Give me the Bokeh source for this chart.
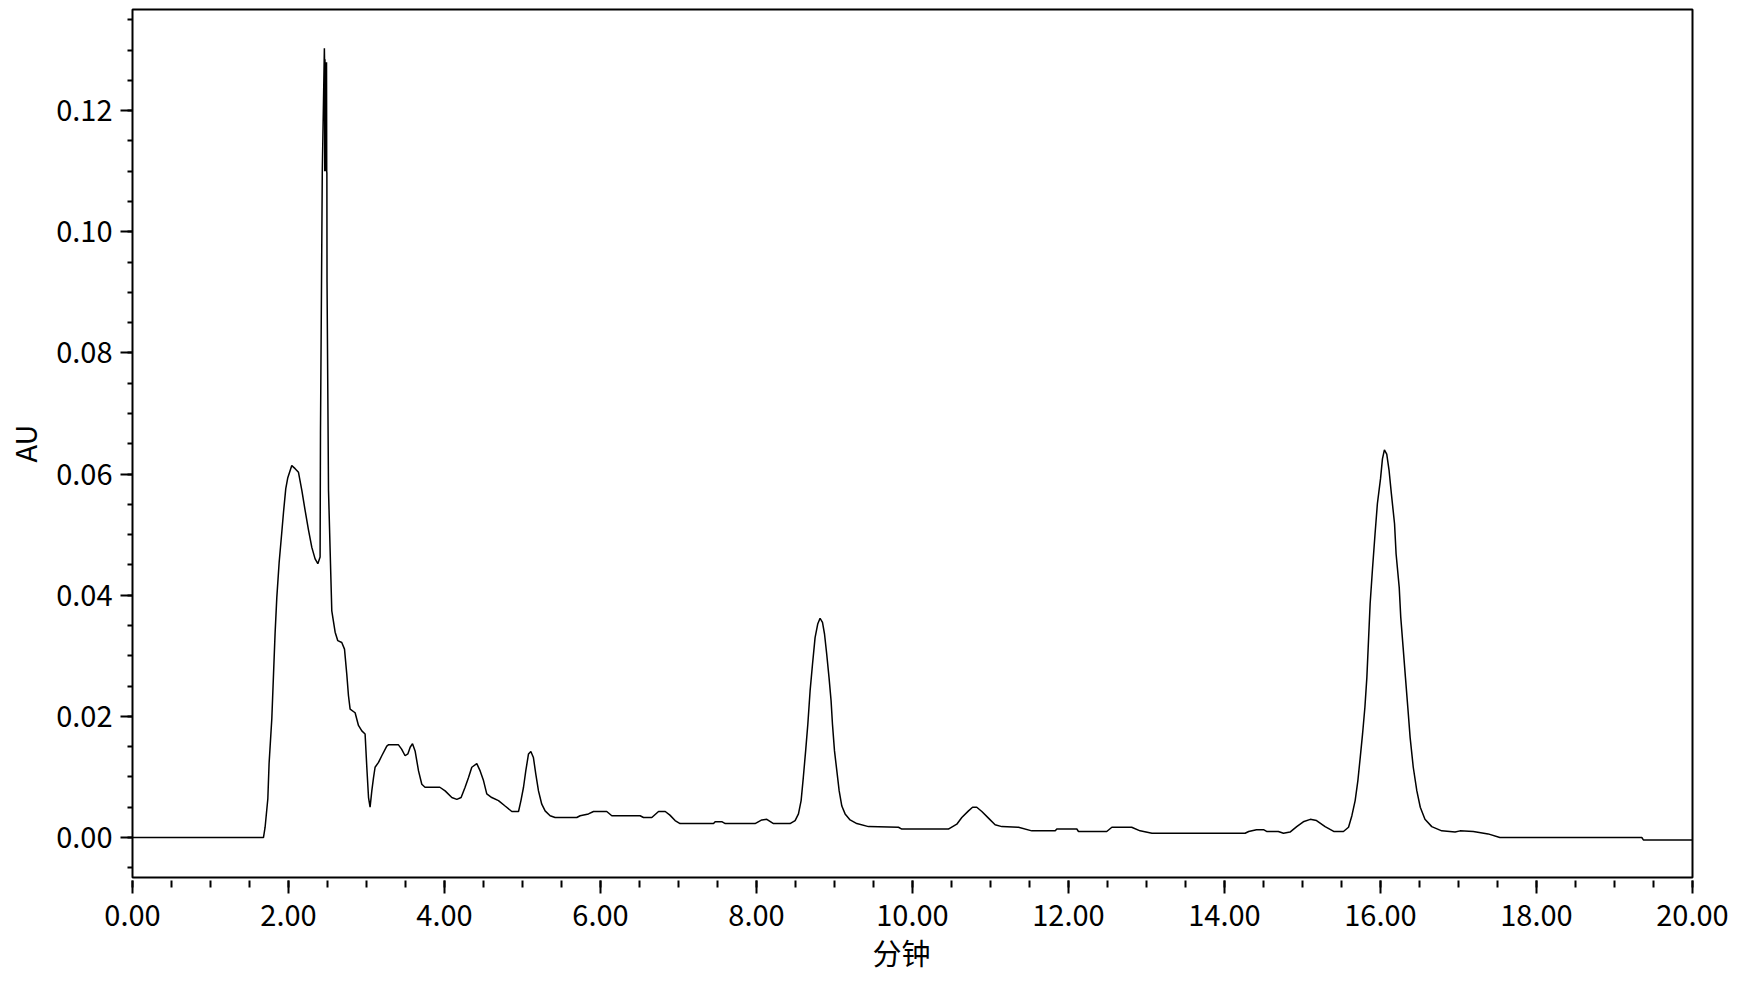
from bokeh.plotting import figure
from bokeh.models import Range1d, SingleIntervalTicker, NumeralTickFormatter, Title
from bokeh.embed import file_html
from bokeh.resources import INLINE

# retention time (min)
time_min = [
    0.0, 1.679, 1.70, 1.735, 1.751, 1.786, 1.808, 1.828, 1.85, 1.88, 1.914, 1.936, 1.965, 1.991,
    2.042, 2.085, 2.128, 2.171, 2.213, 2.256, 2.299, 2.341, 2.376, 2.405, 2.41, 2.433, 2.46,
    2.4625, 2.465, 2.4675, 2.47, 2.4725, 2.475, 2.4775, 2.48, 2.4825, 2.485, 2.4875, 2.49,
    2.492, 2.494, 2.513, 2.542, 2.555, 2.598, 2.632, 2.683,
    2.718, 2.747, 2.769, 2.79, 2.854, 2.897, 2.94, 2.982, 3.004, 3.026, 3.046, 3.068, 3.09,
    3.11, 3.154, 3.196, 3.26, 3.28, 3.41, 3.45, 3.495, 3.53, 3.56, 3.59, 3.623, 3.667, 3.709,
    3.75, 3.94, 4.008, 4.094, 4.158, 4.213, 4.264, 4.308, 4.35, 4.414, 4.457, 4.5, 4.542,
    4.606, 4.692, 4.777, 4.863, 4.949, 4.98, 5.013, 5.042, 5.077, 5.107, 5.14, 5.17, 5.205,
    5.247, 5.29, 5.354, 5.418, 5.696, 5.739, 5.846, 5.91, 6.08, 6.145, 6.508, 6.551, 6.658,
    6.744, 6.83, 6.89, 6.956, 7.02, 7.449, 7.47, 7.56, 7.6, 7.982, 8.068, 8.132, 8.218, 8.43,
    8.495, 8.538, 8.572, 8.6, 8.63, 8.658, 8.687, 8.718, 8.751, 8.786, 8.815, 8.846, 8.872,
    8.9, 8.93, 8.956, 8.974, 9.0, 9.03, 9.06, 9.094, 9.136, 9.2, 9.286, 9.436, 9.82, 9.863,
    10.46, 10.568, 10.632, 10.718, 10.77, 10.824, 10.889, 10.974, 11.059, 11.145, 11.359,
    11.53, 11.83, 11.85, 12.107, 12.128, 12.49, 12.556, 12.81, 12.918, 13.07, 14.264, 14.31,
    14.41, 14.5, 14.54, 14.69, 14.756, 14.84, 14.926, 15.01, 15.1, 15.18, 15.29, 15.4, 15.525,
    15.59, 15.633, 15.675, 15.71, 15.74, 15.77, 15.8, 15.825, 15.846, 15.867, 15.897, 15.93,
    15.96, 16.0, 16.025, 16.05, 16.08, 16.11, 16.14, 16.18, 16.2, 16.24, 16.26, 16.29, 16.32,
    16.35, 16.38, 16.42, 16.466, 16.51, 16.57, 16.657, 16.785, 16.956, 17.02, 17.19, 17.38,
    17.53, 19.35, 19.37, 20.0,
]

# absorbance (AU)
absorbance = [
    0.0, 0.0, 0.0017, 0.0064, 0.0122, 0.0196, 0.0270, 0.0337, 0.0396, 0.0454, 0.0504, 0.0537,
    0.0576, 0.0594, 0.0614, 0.0609, 0.0603, 0.0573, 0.0540, 0.0508, 0.0479, 0.0460, 0.0452,
    0.0463, 0.0667, 0.1097, 0.1303,
    0.1280, 0.1100, 0.1285, 0.1100, 0.1280, 0.1100, 0.1280, 0.1100, 0.1280, 0.1100, 0.1280,
    0.1100, 0.1097, 0.0917, 0.0573, 0.0435, 0.0374, 0.0339, 0.0325, 0.0322,
    0.0311, 0.0270, 0.0234, 0.0212, 0.0206,
    0.0185, 0.0176, 0.0171, 0.0116, 0.0066, 0.0050, 0.0077, 0.0099, 0.0116, 0.0124, 0.0135,
    0.0151, 0.0153, 0.0153, 0.0146, 0.0135, 0.0138, 0.0149, 0.0155, 0.0143, 0.0110, 0.0088,
    0.0083, 0.0083, 0.0077, 0.0066, 0.0063, 0.0066, 0.0083, 0.0099, 0.0116, 0.0122, 0.0110,
    0.0094, 0.0072, 0.0066, 0.0061, 0.0052, 0.0043, 0.0043, 0.0061, 0.0083, 0.0110, 0.0138,
    0.0142, 0.0132, 0.0105, 0.0077, 0.0055, 0.0044, 0.0036, 0.0033, 0.0033, 0.0036, 0.0039,
    0.0043, 0.0043, 0.0036, 0.0036, 0.0033, 0.0033, 0.0043, 0.0043, 0.0037, 0.0028, 0.0023,
    0.0023, 0.0026, 0.0026, 0.0023, 0.0023, 0.0029, 0.0030, 0.0023, 0.0023, 0.0028, 0.0039,
    0.0061, 0.0099, 0.0143, 0.0187, 0.0242, 0.0286, 0.0330, 0.0353, 0.0362, 0.0355, 0.0336,
    0.0303, 0.0264, 0.0226, 0.0187, 0.0143, 0.0110, 0.0077, 0.0052, 0.0039, 0.0029, 0.0023,
    0.0018, 0.0017, 0.0014, 0.0014, 0.0022, 0.0033, 0.0044, 0.0050, 0.0050, 0.0043, 0.0032,
    0.0021, 0.0018, 0.0017, 0.0011, 0.0011, 0.0014, 0.0014, 0.0010, 0.0010, 0.0017, 0.0017,
    0.0011, 0.0007, 0.0007, 0.0010, 0.0013, 0.0013, 0.0010, 0.0010, 0.0007, 0.0009, 0.0018,
    0.0026, 0.0030, 0.0028, 0.0018, 0.0010, 0.0010, 0.0017, 0.0036, 0.0061, 0.0094, 0.0132,
    0.0171, 0.0215, 0.0264, 0.0325, 0.0386, 0.0443, 0.0501, 0.0551, 0.0592, 0.0625, 0.0640,
    0.0633, 0.0606, 0.0567, 0.0518, 0.0468, 0.0413, 0.0363, 0.0314, 0.0264, 0.0215, 0.0165,
    0.0116, 0.0077, 0.0050, 0.0030, 0.0018, 0.0011, 0.0009, 0.0011, 0.0010, 0.0006, 0.0,
    0.0, -0.0004, -0.0004,
]

x_label = "分钟"
y_label = "AU"

FONT = "Noto Sans CJK SC"

p = figure(
    frame_width=1560, frame_height=868,
    x_range=Range1d(0, 20), y_range=Range1d(-0.0066, 0.1367),
    output_backend="svg", toolbar_location=None,
    min_border_left=131, min_border_top=9, min_border_right=45, min_border_bottom=100,
)
p.background_fill_color = "white"
p.border_fill_color = "white"
p.outline_line_color = "black"
p.outline_line_width = 2
p.xgrid.visible = False
p.ygrid.visible = False

p.line(time_min, absorbance, line_color="black", line_width=1.5)

p.xaxis.ticker = SingleIntervalTicker(interval=2, num_minor_ticks=4)
p.yaxis.ticker = SingleIntervalTicker(interval=0.02, num_minor_ticks=4)
p.xaxis.formatter = NumeralTickFormatter(format="0.00")
p.yaxis.formatter = NumeralTickFormatter(format="0.00")

for ax in (p.xaxis[0], p.yaxis[0]):
    ax.axis_line_color = None
    ax.major_tick_line_color = "black"
    ax.minor_tick_line_color = "black"
    ax.major_tick_line_width = 2
    ax.minor_tick_line_width = 2
    ax.major_label_text_font = FONT
    ax.major_label_text_font_size = "29px"
    ax.major_label_text_color = "black"
    ax.axis_label_text_font = FONT
    ax.axis_label_text_font_size = "29px"
    ax.axis_label_text_font_style = "normal"
    ax.axis_label_text_color = "black"

p.xaxis.major_tick_in = -3
p.xaxis.major_tick_out = 16
p.xaxis.minor_tick_in = -3
p.xaxis.minor_tick_out = 10
p.xaxis.major_label_standoff = 11

# x-axis caption, placed slightly left of the frame centre as in the original
p.add_layout(Title(text=x_label, align="left", offset=740, standoff=0,
                   text_font=FONT, text_font_size="29px", text_font_style="normal",
                   text_color="black"), "below")

p.yaxis.major_tick_in = 0
p.yaxis.major_tick_out = 12
p.yaxis.minor_tick_in = 0
p.yaxis.minor_tick_out = 5
p.yaxis.major_label_standoff = 8
p.yaxis.axis_label = y_label
p.yaxis.axis_label_standoff = 8

open("out.html", "w").write(file_html(p, INLINE))
